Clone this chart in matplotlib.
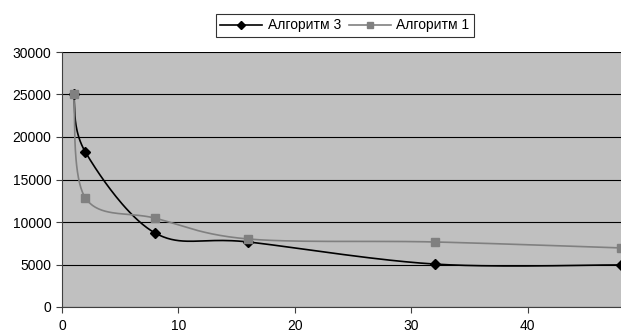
import numpy as np
import matplotlib.pyplot as plt
from matplotlib.lines import Line2D

# data
x = [1, 2, 8, 16, 32, 48]
alg3 = [25000, 18250, 8700, 7650, 5050, 4950]
alg1 = [25000, 12850, 10450, 8000, 7650, 6950]
names = ['Алгоритм 3', 'Алгоритм 1']


def smooth(xs, ys, n=40):
    # Catmull-Rom style bezier, like Excel smoothed lines
    p = np.column_stack([xs, ys]).astype(float)
    p = np.vstack([p[0], p, p[-1]])
    out = []
    t = np.linspace(0, 1, n)[:, None]
    for i in range(1, len(p) - 2):
        p0, p1, p2, p3 = p[i - 1], p[i], p[i + 1], p[i + 2]
        c1 = p1 + (p2 - p0) / 6
        c2 = p2 - (p3 - p1) / 6
        seg = ((1 - t) ** 3) * p1 + 3 * ((1 - t) ** 2) * t * c1 + 3 * (1 - t) * t ** 2 * c2 + t ** 3 * p2
        out.append(seg)
    out = np.vstack(out)
    return out[:, 0], out[:, 1]


plt.rcParams['font.family'] = ['Liberation Sans', 'DejaVu Sans']
fig = plt.figure(figsize=(6.21, 3.35), dpi=100)
ax = fig.add_axes([62 / 621, 1 - 307 / 335, 1 - 62 / 621, (307 - 52) / 335])
ax.set_facecolor('#c0c0c0')

sx, sy = smooth(x, alg3)
ax.plot(sx, sy, color='black', lw=1.2, zorder=3)
ax.plot(x, alg3, ls='none', marker='D', ms=5, color='black', zorder=4, clip_on=False)
sx, sy = smooth(x, alg1)
ax.plot(sx, sy, color='#808080', lw=1.2, zorder=3)
ax.plot(x, alg1, ls='none', marker='s', ms=6, color='#808080', zorder=4, clip_on=False)

ax.set_xlim(0, 48)
ax.set_ylim(0, 30000)
ax.set_xticks([0, 10, 20, 30, 40])
ax.set_yticks(range(0, 30001, 5000))
ax.yaxis.grid(True, color='black', lw=0.8)
ax.set_axisbelow(True)
for s in ['top', 'right']:
    ax.spines[s].set_visible(False)
ax.spines['left'].set_color('#404040')
ax.spines['bottom'].set_color('#404040')
ax.tick_params(labelsize=10, length=4, color='#404040')
ax.tick_params(axis='x', pad=5)

handles = [Line2D([], [], color='black', marker='D', ms=4.5, lw=1.2),
           Line2D([], [], color='#808080', marker='s', ms=5, lw=1.2)]
leg = fig.legend(handles, names, loc='center', bbox_to_anchor=(345 / 621, 1 - 25.5 / 335),
                 ncol=2, fontsize=10, frameon=True, fancybox=False, handlelength=3,
                 columnspacing=0.6, handletextpad=0.4, borderpad=0.3)
leg.get_frame().set_edgecolor('black')
leg.get_frame().set_linewidth(0.8)

fig.savefig('out.png', dpi=100)
